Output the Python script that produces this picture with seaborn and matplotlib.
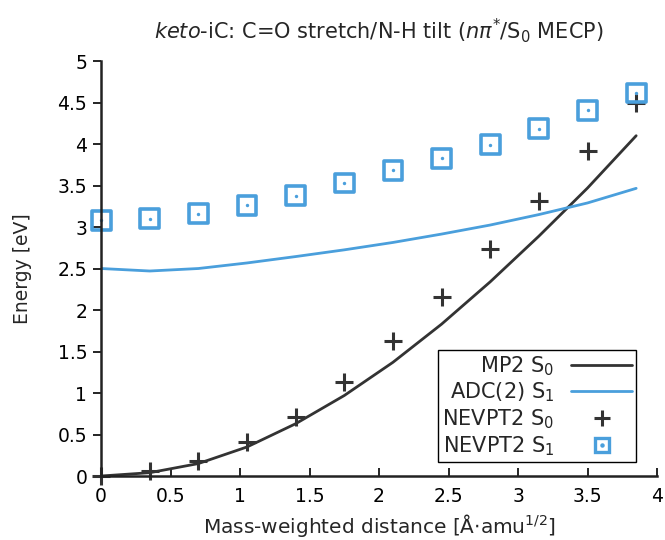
import numpy as np
import pandas as pd
import matplotlib
matplotlib.use("Agg")
import matplotlib.pyplot as plt
import seaborn as sns
from matplotlib.lines import Line2D
from matplotlib.legend_handler import HandlerTuple

# ---- data ----
distance = [0.0, 0.35, 0.70, 1.05, 1.40, 1.75, 2.10, 2.45, 2.80, 3.15, 3.50, 3.85]
mp2_s0 = [0.0, 0.04, 0.15, 0.35, 0.63, 0.97, 1.37, 1.83, 2.34, 2.89, 3.47, 4.10]
adc2_s1 = [2.50, 2.47, 2.50, 2.567, 2.644, 2.725, 2.814, 2.915, 3.024, 3.15, 3.29, 3.466]
nevpt2_s0 = [0.0, 0.06, 0.18, 0.41, 0.71, 1.13, 1.63, 2.16, 2.73, 3.31, 3.91, 4.50]
nevpt2_s1 = [3.08, 3.10, 3.16, 3.26, 3.376, 3.53, 3.684, 3.83, 3.99, 4.186, 4.405, 4.615]
xticks = [0, 0.5, 1, 1.5, 2, 2.5, 3, 3.5, 4]
xticklabels = ["0", "0.5", "1", "1.5", "2", "2.5", "3", "3.5", "4"]
yticks = [0, 0.5, 1, 1.5, 2, 2.5, 3, 3.5, 4, 4.5, 5]
yticklabels = ["0", "0.5", "1", "1.5", "2", "2.5", "3", "3.5", "4", "4.5", "5"]

df = pd.DataFrame({"x": distance, "mp2": mp2_s0, "adc": adc2_s1,
                   "n0": nevpt2_s0, "n1": nevpt2_s1})

sns.set_style("ticks")
plt.rcParams["font.family"] = ["DejaVu Sans"]
plt.rcParams["mathtext.fontset"] = "dejavusans"

dark = "#333333"
blue = "#4a9fdc"

fig = plt.figure(figsize=(6.65, 5.4), dpi=100)
ax = fig.add_axes([0.152, 0.1185, 0.836, 0.7685])

sns.lineplot(data=df, x="x", y="mp2", ax=ax, color=dark, lw=2.0)
sns.lineplot(data=df, x="x", y="adc", ax=ax, color=blue, lw=2.0)
sns.scatterplot(data=df, x="x", y="n0", ax=ax, marker="+", s=170,
                color=dark, linewidth=2.2, clip_on=False)
sns.scatterplot(data=df, x="x", y="n1", ax=ax, marker="s", s=185,
                facecolor="none", edgecolor=blue, linewidth=2.6, clip_on=False)
sns.scatterplot(data=df, x="x", y="n1", ax=ax, marker="o", s=6,
                color=blue, linewidth=0, clip_on=False)

ax.set_xlim(0, 4)
ax.set_ylim(0, 5)
ax.set_xticks(xticks)
ax.set_xticklabels(xticklabels)
ax.set_yticks(yticks)
ax.set_yticklabels(yticklabels)
ax.tick_params(axis="x", direction="in", length=6, width=1.2, labelsize=13.5, pad=8, colors="black")
ax.tick_params(axis="y", direction="out", length=6, width=1.2, labelsize=13.5, pad=4, colors="black")
for s in ["top", "right"]:
    ax.spines[s].set_visible(False)
for s in ["left", "bottom"]:
    ax.spines[s].set_linewidth(1.8)
    ax.spines[s].set_color("#222222")

ax.set_xlabel(r"Mass-weighted distance [Å$\cdot$amu$^{1/2}$]", fontsize=14.5, labelpad=4)
ax.set_ylabel("Energy [eV]", fontsize=13.5, labelpad=18)
ax.set_title(r"$\it{keto}$-iC: C=O stretch/N-H tilt ($n\pi^{*}$/S$_0$ MECP)", fontsize=15, pad=16)

h1 = Line2D([], [], color=dark, lw=2.0)
h2 = Line2D([], [], color=blue, lw=2.0)
h3 = Line2D([], [], ls="none", marker="+", ms=11, mew=2.2, color=dark)
h4a = Line2D([], [], ls="none", marker="s", ms=10, mfc="none", mec=blue, mew=2.4)
h4b = Line2D([], [], ls="none", marker="o", ms=2.2, color=blue)
leg = ax.legend([h1, h2, h3, (h4a, h4b)],
                ["MP2 S$_0$", "ADC(2) S$_1$", "NEVPT2 S$_0$", "NEVPT2 S$_1$"],
                handler_map={tuple: HandlerTuple(ndivide=1, pad=0)},
                loc="upper right", bbox_to_anchor=(0.962, 0.304),
                markerfirst=False, fontsize=15, frameon=True, fancybox=False,
                framealpha=1, edgecolor="black", handlelength=2.9,
                borderpad=0.2, labelspacing=0.15, handletextpad=0.8, borderaxespad=0)
leg.get_frame().set_linewidth(1.0)
for t in leg.get_texts():
    t.set_ha("right")

fig.savefig("out.png", dpi=100)
